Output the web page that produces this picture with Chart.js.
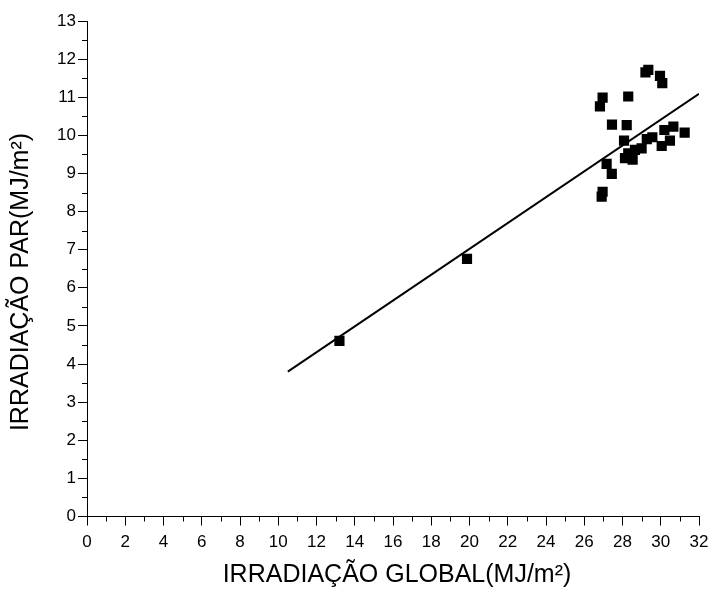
<!DOCTYPE html>
<html><head><meta charset="utf-8">
<script src="https://cdn.jsdelivr.net/npm/chart.js@4.4.0/dist/chart.umd.min.js"></script>
<style>html,body{margin:0;padding:0;background:#fff}canvas{display:block}</style>
</head><body>
<canvas id="c" width="712" height="592"></canvas>
<script>
// Data
const globalX = [13.2, 19.87, 29.2, 29.35, 29.96, 30.08, 26.96, 28.30, 26.82, 27.45, 28.22, 28.08, 30.66, 31.25, 30.19, 30.48, 30.05, 29.27, 29.56, 29.00, 28.65, 28.30, 28.13, 28.53, 28.45, 27.17, 27.44, 26.96, 26.91];
const parY    = [4.61, 6.76, 11.65, 11.72, 11.56, 11.37, 10.99, 11.02, 10.76, 10.28, 10.27, 9.86, 10.23, 10.07, 10.14, 9.86, 9.72, 9.90, 9.95, 9.66, 9.62, 9.53, 9.40, 9.36, 9.45, 9.25, 8.99, 8.52, 8.39];
const fitX = [10.5, 32];
const fitY = [3.80, 11.09];
const xTickValues = [0,2,4,6,8,10,12,14,16,18,20,22,24,26,28,30,32];
const yTickValues = [0,1,2,3,4,5,6,7,8,9,10,11,12,13];
const xTitle = 'IRRADIAÇÃO GLOBAL(MJ/m²)';
const yTitle = 'IRRADIAÇÃO PAR(MJ/m²)';

const FONT = '"Liberation Sans", Arial, sans-serif';

const minorTicks = {
  id: 'minorTicks',
  afterDraw(chart) {
    const ctx = chart.ctx;
    const xs = chart.scales.x, ys = chart.scales.y;
    ctx.save();
    ctx.strokeStyle = '#000';
    ctx.lineWidth = 1;
    ctx.beginPath();
    for (let i = 0; i < xTickValues.length - 1; i++) {
      const v = (xTickValues[i] + xTickValues[i+1]) / 2;
      const px = Math.round(xs.getPixelForValue(v)) + 0.5;
      ctx.moveTo(px, xs.top);
      ctx.lineTo(px, xs.top + 5);
    }
    for (let i = 0; i < yTickValues.length - 1; i++) {
      const v = (yTickValues[i] + yTickValues[i+1]) / 2;
      const py = Math.round(ys.getPixelForValue(v)) + 0.5;
      ctx.moveTo(ys.right, py);
      ctx.lineTo(ys.right - 5, py);
    }
    ctx.stroke();
    // axis titles
    ctx.fillStyle = '#000';
    ctx.font = '25px ' + FONT;
    ctx.textAlign = 'center';
    ctx.textBaseline = 'middle';
    const ca = chart.chartArea;
    ctx.fillText(xTitle, (ca.left + ca.right) / 2 + 4, 575);
    ctx.translate(21, 282);
    ctx.rotate(-Math.PI / 2);
    ctx.fillText(yTitle, 0, 0);
    ctx.restore();
  }
};

const scatterPts = globalX.map((x, i) => ({x: x, y: parY[i]}));
const fitPts = fitX.map((x, i) => ({x: x, y: fitY[i]}));

new Chart(document.getElementById('c'), {
  type: 'scatter',
  data: {
    datasets: [
      {
        type: 'line',
        data: fitPts,
        borderColor: '#000',
        borderWidth: 2,
        pointRadius: 0,
        fill: false,
        tension: 0
      },
      {
        data: scatterPts,
        pointStyle: 'rect',
        pointRadius: 7.2,
        pointHoverRadius: 7.2,
        backgroundColor: '#000',
        borderColor: '#000',
        borderWidth: 0
      }
    ]
  },
  options: {
    responsive: false,
    animation: false,
    devicePixelRatio: 1,
    layout: { padding: { top: 21, right: 13, bottom: 0, left: 0 } },
    plugins: { legend: { display: false }, tooltip: { enabled: false } },
    scales: {
      x: {
        type: 'linear',
        min: 0, max: 32,
        afterBuildTicks(scale) { scale.ticks = xTickValues.map(v => ({value: v})); },
        afterFit(scale) { scale.height = 75.5; scale.paddingRight = 0; scale.paddingLeft = 0; },
        border: { display: true, color: '#000', width: 1 },
        grid: { drawOnChartArea: false, drawTicks: true, tickLength: 9, tickColor: '#000', tickWidth: 1 },
        ticks: { color: '#000', font: { family: FONT, size: 17 }, padding: 7, maxRotation: 0, autoSkip: false }
      },
      y: {
        type: 'linear',
        min: 0, max: 13,
        afterBuildTicks(scale) { scale.ticks = yTickValues.map(v => ({value: v})); },
        afterFit(scale) { scale.width = 87; scale.paddingTop = 0; scale.paddingBottom = 0; },
        border: { display: true, color: '#000', width: 1 },
        grid: { drawOnChartArea: false, drawTicks: true, tickLength: 9, tickColor: '#000', tickWidth: 1 },
        ticks: { color: '#000', font: { family: FONT, size: 17 }, padding: 2, autoSkip: false }
      }
    }
  },
  plugins: [minorTicks]
});
</script>
</body></html>
